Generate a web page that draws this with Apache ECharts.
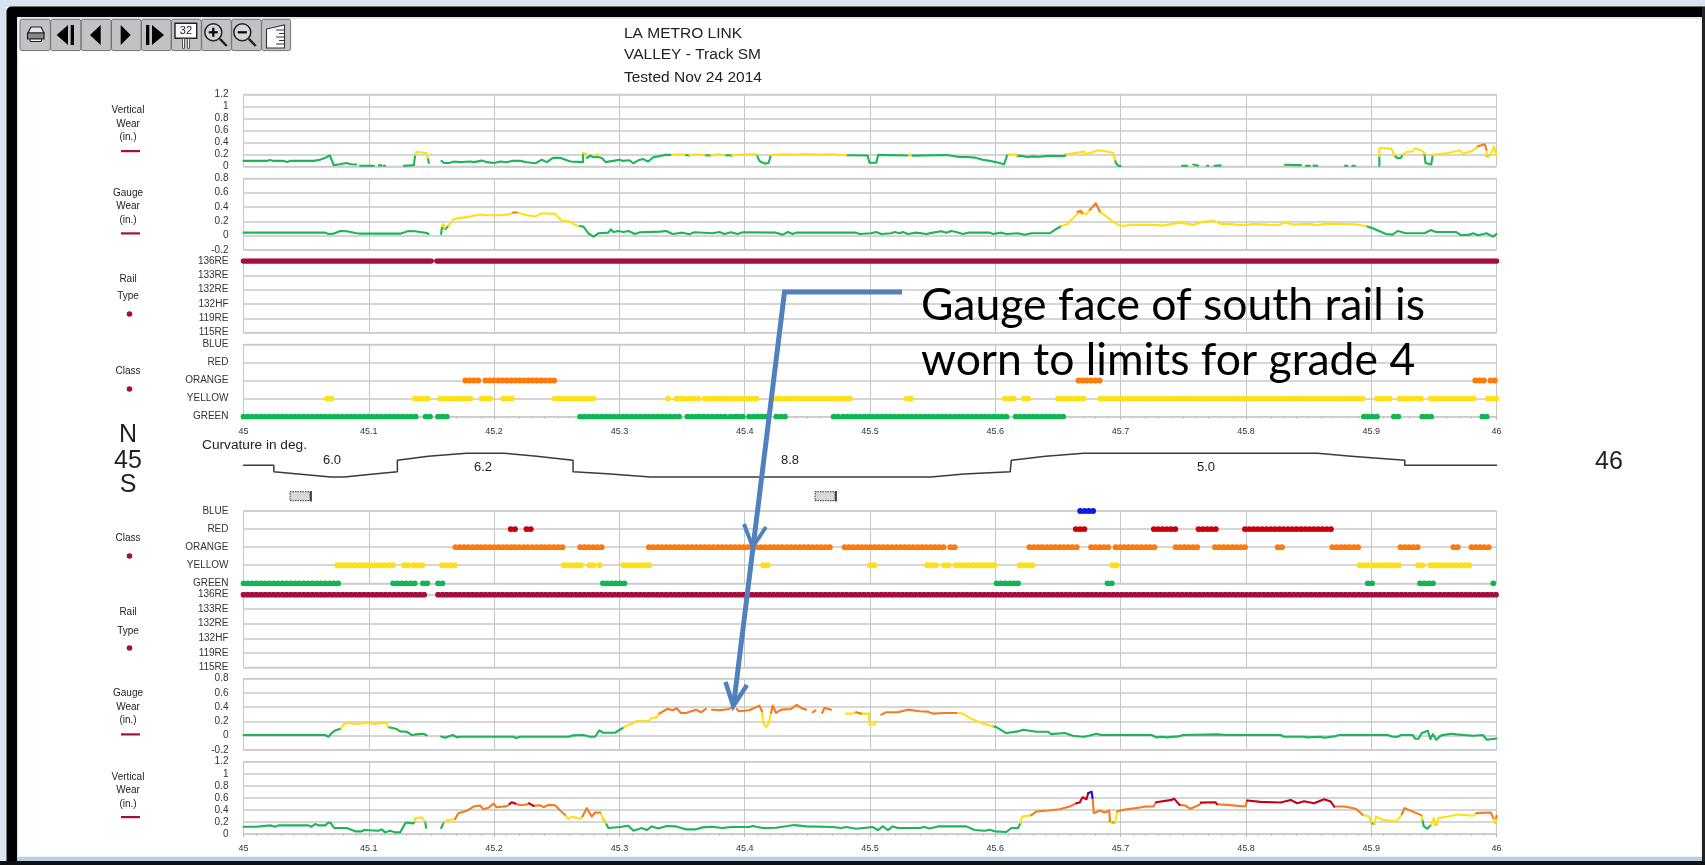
<!DOCTYPE html>
<html><head><meta charset="utf-8"><title>LA Metro Link rail wear</title>
<style>html,body{margin:0;padding:0;background:#fff}#c{width:1705px;height:865px;filter:blur(0.45px)}</style>
<script src="https://cdn.jsdelivr.net/npm/echarts@6/dist/echarts.min.js"></script>
</head><body><div id="c"></div>
<script>
const classLabels = ['GREEN','YELLOW','ORANGE','RED','BLUE'];
const railLabels = ['115RE','119RE','132HF','132RE','133RE','136RE'];
const xMin = 45, xMax = 46, xStep = 0.1;

// North rail, vertical wear (mile, inches)
const northVerticalGreen = [[45,.09],[45.019,.09],[45.021,.105],[45.024,.09],[45.032,.09],[45.035,.07],[45.037,.09],[45.056,.09],[45.061,.11],[45.065,.14],[45.069,.18],[45.072,.02],[45.077,.035],[45.082,.055],[45.086,.035],[45.09,.03],null,[45.093,.01],[45.104,.01],null,[45.108,.015],[45.11,.015],null,[45.112,.01],[45.113,.01],null,[45.128,.01],[45.136,.02],[45.137,.19],null,[45.147,.14],[45.148,.055],null,
[45.158,.09],[45.16,.055],[45.164,.055],[45.168,.08],[45.173,.07],[45.181,.08],[45.184,.07],[45.19,.095],[45.194,.07],[45.2,.055],[45.205,.08],[45.21,.067],[45.214,.09],[45.221,.09],[45.226,.067],[45.233,.05],[45.238,.11],[45.242,.07],[45.247,.14],[45.253,.14],[45.257,.11],[45.261,.08],[45.271,.07],[45.271,.22],null,
[45.274,.14],[45.277,.18],[45.279,.15],[45.282,.16],[45.286,.14],[45.289,.07],[45.295,.09],[45.3,.11],[45.303,.09],[45.308,.1],[45.311,.05],[45.315,.1],[45.319,.12],[45.323,.08],[45.327,.15],[45.331,.165],[45.336,.19],[45.342,.19],null,[45.352,.19],[45.356,.18],null,[45.368,.185],[45.373,.18],null,[45.384,.185],[45.39,.18],null,
[45.41,.17],[45.412,.085],[45.416,.045],[45.419,.055],[45.421,.19],null,[45.481,.185],[45.498,.18],[45.4996,.06],[45.505,.06],[45.5065,.19],[45.53,.18],null,[45.534,.178],[45.561,.189],[45.5715,.155],[45.578,.155],[45.5835,.145],[45.59,.11],[45.5955,.09],[45.601,.067],[45.607,.033],[45.6085,.028],[45.6096,.19],null,[45.617,.178],[45.622,.17],[45.625,.155],[45.63,.165],[45.635,.16],[45.64,.17],[45.645,.175],[45.655,.17],[45.6567,.2],null,
[45.6955,.11],[45.6963,.055],[45.698,.011],[45.70,.003],null,[45.749,.008],[45.753,.008],null,[45.758,.03],[45.762,.01],null,[45.769,.008],[45.77,.008],null,[45.775,.01],[45.78,.015],null,[45.831,.025],[45.844,.02],null,[45.848,.01],[45.851,.01],null,[45.854,.012],[45.857,.008],null,[45.879,.008],[45.881,.008],null,[45.885,.008],[45.887,.008],null,
[45.9065,.01],[45.9065,.17],null,[45.9185,.178],[45.9212,.133],[45.9238,.144],[45.9252,.194],null,[45.9425,.21],[45.9433,.055],[45.9438,.03],[45.9479,.03],[45.9492,.19],null,[45.992,.167],[45.9938,.167]];
const northVerticalYellow = [[45.137,.19],[45.138,.24],[45.142,.23],[45.146,.22],[45.147,.14],null,[45.271,.22],[45.272,.25],[45.274,.21],null,[45.281,.19],[45.283,.2],null,[45.342,.19],[45.348,.2],[45.352,.19],null,[45.356,.18],[45.361,.2],[45.368,.185],null,[45.373,.18],[45.379,.2],[45.384,.185],null,[45.39,.18],[45.4,.2],[45.41,.2],null,[45.421,.19],[45.43,.2],[45.44,.195],[45.45,.205],[45.46,.195],[45.47,.2],[45.481,.185],null,[45.532,.17],[45.532,.21],null,[45.61,.2],[45.6155,.2],[45.617,.178],null,[45.6567,.2],[45.671,.244],[45.6714,.2],[45.6754,.222],[45.682,.267],[45.6874,.256],[45.694,.222],[45.6955,.11],null,[45.9065,.17],[45.9065,.306],[45.9158,.294],[45.9172,.25],[45.9185,.178],null,[45.9252,.194],[45.9278,.233],[45.9332,.25],[45.935,.3],[45.9412,.25],[45.9425,.21],null,[45.9492,.19],[45.9505,.222],[45.9612,.222],[45.9706,.267],[45.9732,.21],[45.9799,.25],[45.9853,.333],null,[45.992,.278],[45.992,.167],null,[45.9938,.167],[45.996,.222],[45.998,.333],[46,.178]];
const northVerticalOrange = [[45.9853,.333],[45.9866,.356],[45.9906,.367],[45.992,.278]];

// North rail, gauge wear
const northGaugeGreen = [[45,.042],[45.0652,.042],[45.0678,.023],[45.0718,.028],[45.0771,.065],[45.0824,.061],[45.0904,.033],[45.0931,.028],[45.125,.028],[45.1316,.065],[45.137,.061],[45.1463,.037],[45.1476,.023],null,[45.1577,.023],[45.1585,.13],[45.1609,.09],[45.1636,.135],null,
[45.2673,.135],[45.2713,.126],[45.2753,.033],[45.2793,-.014],[45.2832,.033],[45.2912,.042],[45.2931,.089],[45.2952,.051],[45.2992,.065],[45.3032,.051],[45.3072,.065],[45.3125,.023],[45.3165,.047],[45.3324,.056],[45.3372,.065],[45.3425,.023],[45.3505,.042],[45.3558,.019],[45.3598,.047],[45.3744,.033],[45.3798,.051],[45.3838,.023],[45.3891,.047],[45.3944,.023],[45.3984,.047],[45.425,.042],[45.4304,.014],[45.4344,.051],[45.4383,.023],[45.441,.042],[45.4889,.042],[45.4916,.023],[45.5009,.033],[45.5049,.051],[45.5089,.023],[45.5169,.033],[45.5196,.051],[45.5236,.033],[45.5262,.051],[45.5302,.023],[45.5369,.042],[45.5449,.023],[45.5502,.042],[45.5569,.061],[45.5609,.042],[45.5649,.065],[45.5688,.051],[45.5742,.023],[45.5782,.042],[45.5955,.042],[45.5981,.023],[45.6048,.042],[45.6088,.023],[45.6181,.033],[45.6234,.014],[45.6288,.033],[45.6434,.033],[45.6487,.093],[45.6527,.135],null,
[45.8958,.135],[45.9011,.103],[45.9118,.023],[45.9171,.014],[45.9212,.065],[45.9278,.033],[45.9425,.033],[45.9479,.079],[45.9505,.056],[45.9532,.051],[45.9679,.051],[45.9719,.005],[45.9786,.014],[45.9813,.033],[45.9853,.005],[45.992,.033],[45.9973,-.014],[46,.023]];
const northGaugeYellow = [[45.1585,.13],[45.1595,.16],[45.1605,.1],null,[45.1636,.135],[45.1676,.229],[45.1729,.248],[45.1809,.266],[45.1888,.294],[45.1941,.285],[45.2048,.285],[45.2128,.3],[45.2149,.322],null,[45.2181,.322],[45.2261,.285],[45.2327,.266],[45.238,.313],[45.2487,.304],[45.254,.206],[45.2606,.196],[45.2646,.15],[45.2673,.135],null,[45.6527,.135],[45.6581,.164],[45.662,.243],[45.666,.313],null,[45.6674,.313],[45.6728,.304],[45.6754,.36],null,[45.6834,.336],[45.6888,.266],[45.6941,.196],[45.6981,.15],[45.7021,.135],[45.7061,.15],[45.7288,.15],[45.7329,.14],[45.7475,.182],[45.7582,.15],[45.7649,.192],[45.7743,.206],[45.7796,.164],[45.7876,.164],[45.7929,.15],[45.801,.15],[45.8063,.164],[45.825,.145],[45.8317,.182],[45.8384,.154],[45.8504,.164],[45.857,.145],[45.8637,.168],[45.8864,.159],[45.8958,.135]];
const northGaugeOrange = [[45.2149,.322],[45.2181,.322],null,[45.6655,.33],[45.668,.346],[45.6695,.32],null,[45.6754,.36],[45.6802,.453],[45.6834,.336]];

// South rail, gauge wear
const southGaugeGreen = [[45,.01],[45.0652,.01],[45.0678,-.014],[45.0705,.038],[45.0731,.075],[45.0779,.103],null,[45.1152,.122],[45.1223,.094],[45.125,.061],[45.1303,.056],[45.1343,.01],[45.1396,.023],[45.1436,.028],[45.1463,.005],null,[45.1577,-.01],[45.1609,-.028],[45.167,.01],[45.1702,-.023],[45.1729,-.014],[45.2154,-.014],[45.2176,-.033],[45.2207,-.014],[45.254,-.014],[45.2553,.005],[45.2593,-.014],[45.2633,.005],[45.2713,.01],[45.2766,-.014],[45.2806,-.014],[45.284,.075],[45.2872,.042],[45.2965,.042],[45.3037,.122],null,
[45.5981,.131],[45.6008,.122],[45.6088,.038],[45.6181,.061],[45.6221,.085],[45.6328,.056],[45.6421,.056],[45.6447,.023],[45.6554,.038],[45.662,0],[45.6674,-.01],[45.6714,-.014],[45.6808,.028],[45.6848,.01],[45.7248,.01],[45.7283,-.023],[45.7329,-.014],[45.7369,-.023],[45.7462,-.009],[45.7502,.01],[45.7769,.019],[45.7849,.01],[45.8277,.01],[45.8303,-.014],[45.8464,-.014],[45.849,-.023],[45.8597,-.014],[45.8624,-.028],[45.8717,-.005],[45.8744,.01],[45.9131,.01],[45.9171,-.014],[45.9212,-.014],[45.9238,.01],[45.9332,.01],[45.935,-.042],[45.9377,-.042],[45.9404,.038],[45.9452,.07],[45.9473,-.047],[45.9492,.023],[45.9519,-.056],[45.9559,.005],[45.9639,.028],[45.9679,.019],[45.9813,0],[45.9893,.01],[45.992,-.056],[46,-.038]];
const southGaugeYellow = [[45.0779,.103],[45.0798,.16],[45.0838,.183],[45.0891,.16],[45.0971,.178],[45.1011,.183],[45.1051,.16],[45.109,.178],[45.1144,.178],[45.1152,.122],null,[45.3037,.122],[45.3112,.178],[45.3138,.207],[45.3231,.207],[45.3258,.249],[45.3298,.258],[45.3318,.31],null,[45.4138,.343],[45.4149,.178],[45.417,.122],[45.4192,.178],[45.421,.319],null,[45.481,.31],[45.4863,.31],[45.4889,.329],null,[45.4929,.31],[45.4991,.31],[45.4996,.155],[45.5036,.16],[45.5049,.202],null,[45.5688,.319],[45.5742,.31],[45.5795,.249],[45.5875,.188],[45.5981,.131]];
const southGaugeOrange = [[45.3318,.31],[45.3345,.338],[45.3385,.38],[45.3425,.357],[45.3457,.385],[45.3491,.319],[45.3531,.319],[45.3611,.366],[45.3651,.329],[45.3691,.376],null,[45.3739,.366],[45.3798,.357],[45.3877,.376],[45.3904,.404],null,[45.3936,.376],[45.3952,.343],[45.4037,.357],[45.4117,.423],[45.4138,.343],null,[45.421,.319],[45.4224,.423],[45.425,.319],[45.429,.366],[45.437,.376],[45.4415,.432],[45.445,.39],[45.449,.366],null,[45.4543,.329],[45.4565,.357],null,[45.4618,.319],[45.4636,.39],[45.469,.366],null,[45.4889,.329],[45.4929,.31],null,[45.5089,.296],[45.5129,.329],[45.5222,.329],[45.5302,.366],[45.5395,.343],[45.5462,.338],[45.5502,.31],[45.5595,.319],[45.5688,.319]];

// South rail, vertical wear
const southVerticalGreen = [[45,.12],[45.0106,.12],[45.012,.143],[45.0213,.143],[45.0253,.12],[45.0279,.143],[45.0519,.143],[45.054,.12],[45.0572,.165],[45.0598,.143],[45.0652,.143],[45.0678,.192],[45.0697,.181],[45.0723,.099],[45.0824,.099],[45.0891,.044],[45.0944,.044],[45.0963,.066],[45.1077,.055],[45.1104,.077],[45.113,.027],[45.117,.055],[45.121,.027],[45.125,.027],[45.1295,.192],[45.1356,.176],[45.137,.209],null,[45.1449,.209],[45.1457,.181],[45.1457,.104],null,[45.1577,.099],[45.1601,.198],null,
[45.2872,.247],[45.2891,.181],[45.2912,.099],[45.3005,.115],[45.3072,.137],[45.3112,.055],[45.3178,.099],[45.3218,.066],[45.3258,.126],[45.3311,.093],[45.3364,.126],[45.3385,.132],[45.3451,.126],[45.3531,.077],[45.3611,.077],[45.3664,.11],[45.3731,.121],[45.3824,.099],[45.3891,.115],[45.4037,.115],[45.4064,.132],[45.4144,.099],[45.425,.104],[45.4397,.148],[45.449,.126],[45.4703,.115],[45.477,.099],[45.481,.115],[45.4889,.088],[45.5023,.115],[45.5063,.066],[45.5103,.126],[45.5142,.066],[45.5182,.126],[45.5222,.099],[45.5395,.099],[45.5435,.115],[45.5475,.093],[45.5542,.126],[45.5768,.126],[45.5835,.066],[45.5915,.055],[45.5955,.071],[45.5995,.044],[45.6088,.033],[45.6128,.099],[45.6181,.099],[45.6202,.181],null,
[45.6928,.19],[45.6955,.19],null,[45.8998,.181],[45.9025,.17],null,[45.9409,.236],[45.942,.126],[45.9447,.088],[45.9479,.154],null,[45.9511,.154],[45.9524,.165],null,[45.999,.19],[45.9995,.2]];
const southVerticalYellow = [[45.137,.209],[45.137,.264],[45.1423,.275],[45.1449,.209],null,[45.1601,.198],[45.1622,.225],[45.1689,.247],null,[45.2566,.319],[45.2593,.247],[45.262,.291],[45.2686,.247],[45.2705,.291],null,[45.2846,.357],[45.2872,.247],[45.2891,.181],null,[45.6202,.181],[45.6213,.291],[45.6288,.313],null,[45.6915,.209],[45.6928,.19],null,[45.6955,.19],[45.6973,.374],null,[45.8931,.319],[45.8985,.29],[45.8998,.181],null,[45.9025,.17],[45.9038,.291],[45.9091,.236],[45.9198,.209],[45.9225,.264],[45.9245,.33],null,[45.9399,.313],[45.9409,.236],null,[45.9479,.154],[45.95,.264],[45.9511,.154],null,[45.9524,.165],[45.9537,.264],[45.9612,.291],[45.9692,.324],[45.9813,.302],[45.9839,.346],null,[45.9975,.264],[45.999,.19],null,[45.9995,.2],[46,.3]];
const southVerticalOrange = [[45.1689,.247],[45.1715,.346],[45.1782,.385],[45.1835,.456],[45.1888,.473],[45.1915,.412],[45.1955,.434],[45.1995,.505],[45.2021,.445],[45.2101,.462],[45.2125,.5],null,[45.2168,.505],[45.2207,.478],[45.2261,.489],[45.228,.51],null,[45.2314,.467],[45.2367,.478],[45.2394,.445],[45.2434,.484],[45.2487,.478],[45.2527,.39],[45.2566,.319],null,[45.2705,.291],[45.2739,.429],[45.2779,.291],[45.2806,.357],[45.2846,.357],null,[45.6288,.313],[45.6328,.374],[45.6421,.39],[45.6514,.412],[45.6594,.456],[45.6647,.511],null,[45.6776,.6],[45.6786,.346],[45.6834,.39],[45.6874,.357],[45.6909,.39],[45.6915,.209],null,[45.6973,.374],[45.7021,.401],[45.7168,.445],[45.7195,.456],[45.7262,.456],[45.7283,.527],null,[45.747,.484],[45.7515,.473],[45.7556,.418],[45.763,.484],[45.7641,.52],null,[45.7769,.495],[45.7849,.484],[45.7996,.456],[45.801,.555],null,[45.8704,.456],[45.8784,.456],[45.8878,.418],[45.8931,.319],null,[45.9245,.33],[45.9265,.429],[45.9399,.313],null,[45.9839,.346],[45.9954,.357],[45.9975,.264],null,[45.9997,.26],[46,.3]];
const southVerticalRed = [[45.2125,.5],[45.2141,.527],[45.2168,.505],null,[45.228,.51],[45.2293,.533],[45.2314,.467],null,[45.6647,.511],[45.6674,.522],[45.6696,.61],[45.6728,.577],[45.6741,.676],null,[45.7283,.527],[45.7409,.566],[45.7427,.588],[45.747,.484],null,[45.7641,.52],[45.7756,.527],[45.7769,.495],null,[45.801,.555],[45.8116,.533],[45.8277,.522],[45.8357,.566],[45.841,.511],[45.8464,.544],[45.8544,.511],[45.8624,.577],[45.8677,.538],[45.8704,.456]];
const southVerticalBlue = [[45.6741,.676],[45.6768,.703],[45.6776,.6]];

// Curvature trace, deflection from tangent
const curvatureTrace = [[45,0],[45.0242,0],[45.0242,-.56],[45.048,-.78],[45.0696,-1],[45.0805,-1],[45.0999,-.78],[45.1228,-.56],[45.1228,.42],[45.1475,.75],[45.1778,1],[45.208,1],[45.234,.75],[45.263,.42],[45.263,-.56],[45.2902,-.72],[45.3248,-1],[45.5488,-1],[45.5749,-.75],[45.6119,-.56],[45.6128,.42],[45.6402,.75],[45.6707,1],[45.8571,1],[45.8841,.75],[45.9268,.42],[45.9268,0],[46,0]];

// Class runs, [start mile, end mile]
const northClassOrange = [[45.177,45.19],[45.193,45.25],[45.6664,45.6707],[45.6729,45.686],[45.983,45.9908],[45.9952,45.9987]];
const northClassYellow = [[45.0666,45.0705],[45.1367,45.1475],[45.157,45.182],[45.19,45.1994],[45.2072,45.2145],[45.2483,45.2816],[45.3387,45.3421],[45.3456,45.3659],[45.3681,45.4105],[45.4222,45.484],[45.5292,45.534],[45.6076,45.6163],[45.6228,45.6272],[45.6498,45.6738],[45.6838,45.8963],[45.9046,45.9177],[45.9225,45.9429],[45.9473,45.9843],[45.993,46]];
const northClassGreen = [[45,45.138],[45.1453,45.1497],[45.1553,45.1631],[45.2686,45.3508],[45.3542,45.3629],[45.3638,45.3875],[45.3888,45.3932],[45.3949,45.3992],[45.4035,45.42],[45.4252,45.433],[45.471,45.4753],[45.4784,45.6098],[45.6163,45.6555],[45.8942,45.9059],[45.9181,45.9233],[45.9408,45.9486],[45.9887,45.9939]];
const northRailRuns = [[45,45.1497],[45.1544,46]];

const southClassBlue = [[45.6677,45.6782]];
const southClassRed = [[45.2132,45.2193],[45.2258,45.2318],[45.6642,45.6742],[45.7265,45.7456],[45.7622,45.7766],[45.7992,45.8698]];
const southClassOrange = [[45.1691,45.2145],[45.2167,45.2275],[45.2305,45.2578],[45.2686,45.2859],[45.3235,45.4048],[45.4061,45.471],[45.4797,45.561],[45.564,45.5692],[45.6272,45.6655],[45.6764,45.6916],[45.696,45.7273],[45.7439,45.7644],[45.7753,45.8005],[45.8253,45.8297],[45.8689,45.8928],[45.9233,45.9386],[45.9656,45.9695],[45.98,45.9939]];
const southClassYellow = [[45.0748,45.1215],[45.128,45.1319],[45.1358,45.1453],[45.1583,45.1713],[45.2556,45.2695],[45.276,45.2807],[45.2842,45.2872],[45.3032,45.324],[45.4148,45.4191],[45.5,45.5039],[45.5457,45.5531],[45.5592,45.5645],[45.5684,45.6019],[45.6193,45.6324],[45.6934,45.6973],[45.8907,45.8985],[45.9016,45.9255],[45.9373,45.9412],[45.9473,45.9808]];
const southClassGreen = [[45,45.0761],[45.1194,45.138],[45.1432,45.1475],[45.1553,45.1605],[45.2868,45.3041],[45.601,45.6206],[45.6895,45.6952],[45.8972,45.9016],[45.939,45.9521],[45.9974,46]];
const southRailRuns = [[45,45.1475],[45.1553,46]];

const C = {green:'#1db45a',yellow:'#ffe015',orange:'#f47b20',red:'#c3001a',blue:'#1010e0',maroon:'#a50e3e',dotGreen:'#10b652',dotOrange:'#ff7a0c',dotRed:'#c80008',dotBlue:'#0a1de8'};
const GRID = '#c9c9c9', LEFT = 243.5, W = 1253;
const FONT = '"Liberation Sans", Arial, sans-serif';

const panels = [
  {top:94.3,h:72,kind:'num',min:0,max:1.2},
  {top:178.3,h:71.7,kind:'num',min:-0.2,max:0.8},
  {top:261,h:71.7,kind:'cat',data:railLabels},
  {top:344.3,h:72.4,kind:'cat',data:classLabels,xl:true},
  {top:453.3,h:23.7,kind:'hide',min:-1,max:1},
  {top:511,h:72.3,kind:'cat',data:classLabels},
  {top:594.7,h:72.6,kind:'cat',data:railLabels},
  {top:678.7,h:71.3,kind:'num',min:-0.2,max:0.8},
  {top:761.7,h:72.3,kind:'num',min:0,max:1.2,xl:true}
];
const grids = panels.map(p=>({z:2,left:LEFT,width:W,top:p.top,height:p.h,show:p.kind!=='hide',borderColor:GRID,borderWidth:1,backgroundColor:'transparent'}));
const xAxes = panels.map((p,i)=>({z:2,type:'value',gridIndex:i,min:xMin,max:xMax,interval:xStep,show:p.kind!=='hide',
  axisLine:{show:false},axisTick:{show:!!p.xl,length:3,lineStyle:{color:'#b5b5b5'}},
  minorTick:{show:!!p.xl,splitNumber:10,length:2,lineStyle:{color:'#c4c4c4'}},
  splitLine:{show:true,lineStyle:{color:'#c6c6c6',width:1}},
  axisLabel:{show:!!p.xl,margin:10,fontFamily:FONT,fontSize:9,color:'#333',hideOverlap:false,formatter:v=>String(Math.round(v*10)/10)}}));
const yAxes = panels.map((p,i)=>{
  const common={z:2,gridIndex:i,axisLine:{show:false},axisTick:{show:false},
    splitLine:{show:true,lineStyle:{color:GRID,width:1.6}},
    axisLabel:{margin:15,fontFamily:FONT,fontSize:10,color:'#333'}};
  if(p.kind==='cat') return {...common,type:'category',data:p.data,boundaryGap:false,axisLabel:{...common.axisLabel,interval:0}};
  if(p.kind==='hide') return {type:'value',gridIndex:i,min:p.min,max:p.max,show:false};
  return {...common,type:'value',min:p.min,max:p.max,interval:0.2};
});

const gapRow=['-','-'];
function lineS(g,arr,color,width){
  return {type:'line',xAxisIndex:g,yAxisIndex:g,data:arr.map(d=>d===null?gapRow:d),showSymbol:false,symbol:'none',connectNulls:false,clip:false,silent:true,z:3,animation:false,
    lineStyle:{color:color,width:width||2.1,join:'round',cap:'round'}};
}
function runS(g,runs,label,color,dotted){
  const rows=[];
  runs.forEach(r=>{rows.push([r[0],label],[r[1],label],gapRow);});
  return {type:'line',xAxisIndex:g,yAxisIndex:g,data:rows,showSymbol:false,symbol:'none',connectNulls:false,clip:false,silent:true,z:4,animation:false,
    lineStyle:{color:color,width:dotted?5.8:5.6,cap:'round',type:dotted?[0.1,4.2]:'solid'}};
}
const series=[
  lineS(0,northVerticalGreen,C.green),lineS(0,northVerticalYellow,C.yellow),lineS(0,northVerticalOrange,C.orange),
  lineS(1,northGaugeGreen,C.green),lineS(1,northGaugeYellow,C.yellow),lineS(1,northGaugeOrange,C.orange),
  runS(2,northRailRuns,'136RE',C.maroon,false),
  runS(3,northClassGreen,'GREEN',C.dotGreen,true),runS(3,northClassYellow,'YELLOW',C.yellow,true),runS(3,northClassOrange,'ORANGE',C.dotOrange,true),
  lineS(4,curvatureTrace,'#3a3a3a',1.5),
  runS(5,southClassGreen,'GREEN',C.dotGreen,true),runS(5,southClassYellow,'YELLOW',C.yellow,true),runS(5,southClassOrange,'ORANGE',C.dotOrange,true),runS(5,southClassRed,'RED',C.dotRed,true),runS(5,southClassBlue,'BLUE',C.dotBlue,true),
  runS(6,southRailRuns,'136RE',C.maroon,true),
  lineS(7,southGaugeGreen,C.green),lineS(7,southGaugeYellow,C.yellow),lineS(7,southGaugeOrange,C.orange),
  lineS(8,southVerticalGreen,C.green),lineS(8,southVerticalYellow,C.yellow),lineS(8,southVerticalOrange,C.orange),lineS(8,southVerticalRed,C.red),lineS(8,southVerticalBlue,C.blue)
];

// ---- decoration ----
const g=[];
const rect=(x,y,w,h,fill,extra)=>g.push({type:'rect',z:extra&&extra.z||1,shape:{x,y,width:w,height:h,r:extra&&extra.r||0},style:{fill,stroke:extra&&extra.stroke||null,lineWidth:extra&&extra.lw||0,lineDash:extra&&extra.dash}});
const text=(x,y,t,size,opt)=>g.push({type:'text',z:opt&&opt.z||20,x,y,style:{text:t,fontSize:size,fontFamily:opt&&opt.family||FONT,fill:opt&&opt.fill||'#222',align:opt&&opt.align||'center',verticalAlign:'middle',textAlign:opt&&opt.align||'center',textVerticalAlign:'middle'}});
const poly=(pts,fill,z)=>g.push({type:'polygon',z:z||12,shape:{points:pts},style:{fill}});
const pline=(pts,color,w,z,cap)=>g.push({type:'polyline',z:z||12,shape:{points:pts},style:{stroke:color,lineWidth:w,fill:null,lineCap:cap||'butt',lineJoin:'miter'}});
const dot=(x,y)=>g.push({type:'circle',z:12,shape:{cx:x,cy:y,r:2.8},style:{fill:C.maroon}});

// window frame
rect(0,0,1705,7,'#d6e4f1');
rect(0,0,6.5,865,'#d6e4f1');
g.push({type:'rect',z:1,shape:{x:6.5,y:6.5,width:1698.5,height:858.5,r:[5,0,0,0]},style:{fill:'#000'}});
rect(17,17,1685,844,'#dbe8f4');
rect(18.5,19,1683,837.5,'#fff');
rect(17,857,1685,4,'#b9cfe3');
rect(1702,7,3,858,'#222');
rect(0,861,1705,4,'#111');

// toolbar
const bx=[20,50.7,81.3,111.5,141.5,171.5,201.7,231.7,261.7];
bx.forEach((x,i)=>rect(x,19.3,(i<8?bx[i+1]-x:29.3)-0.4,31.3,'#c2c2c2',{stroke:'#6f7478',lw:1,r:2,z:10}));
// printer
poly([[31,27],[41,27],[44,33],[28,33]],'#e8e8e8');pline([[31,27],[41,27],[44,33],[28,33],[31,27]],'#222',1.2);
rect(27.5,33,16.5,6,'#888',{stroke:'#222',lw:1.2,z:12});rect(30,39,11.5,2.5,'#eee',{stroke:'#222',lw:1,z:12});
// step buttons
poly([[68,25],[68,45],[56.7,35]],'#000');rect(70.7,25,3.3,20,'#000',{z:12});
poly([[100.7,25],[100.7,45],[90,35]],'#000');
poly([[120.7,25],[120.7,45],[130.7,35]],'#000');
rect(146,25,3.3,20,'#000',{z:12});poly([[152,25],[152,45],[164,35]],'#000');
// mile post
rect(175,23.3,21.7,15,'#fff',{stroke:'#222',lw:1.4,z:12});rect(182.5,38.3,2,10,'#fff',{stroke:'#333',lw:.8,z:12});rect(187.5,38.3,2,10,'#fff',{stroke:'#333',lw:.8,z:12});
text(185.9,31,'32',11,{z:13});
// zoom
[[213.3,'+'],[242.3,'-']].forEach(([cx,s])=>{
  g.push({type:'circle',z:12,shape:{cx,cy:32.3,r:8.5},style:{fill:'#d6d6d6',stroke:'#222',lineWidth:1.5}});
  pline([[cx+6.5,38.8],[cx+13.5,46]],'#222',2.4,12);
  pline([[cx-4.5,32.3],[cx+4.5,32.3]],'#000',2.2,13);
  if(s==='+')pline([[cx,27.8],[cx,36.8]],'#000',2.2,13);
});
// ruler
poly([[266.5,29],[284.5,25],[284.5,48],[266.5,48]],'#fff');pline([[266.5,29],[284.5,25],[284.5,48],[266.5,48],[266.5,29]],'#333',1.1);
[30,33.5,37,40.5,44].forEach((y,i)=>pline([[i%2?279:276,y],[284,y]],'#333',1,13));

// titles
[['LA METRO LINK',33.3],['VALLEY - Track SM',55],['Tested Nov 24 2014',77.3]].forEach(([t,y])=>text(624,y,t,15.5,{align:'left'}));

// side captions
const side=(lines,ys)=>lines.forEach((t,i)=>text(128,ys[i],t,10));
const dash=y=>rect(121,y-1,19,2.2,C.maroon,{z:12});
side(['Vertical','Wear','(in.)'],[110,124,137]);dash(151);
side(['Gauge','Wear','(in.)'],[193.7,206.7,220.7]);dash(233.3);
side(['Rail','Type'],[279.3,296.7]);dot(129.5,314);
side(['Class'],[371.7]);dot(129.5,389);
side(['Class'],[538.7]);dot(129.5,556);
side(['Rail','Type'],[612.7,631.3]);dot(129.5,648);
side(['Gauge','Wear','(in.)'],[693.7,707.3,720.7]);dash(734.3);
side(['Vertical','Wear','(in.)'],[777.3,790,804.7]);dash(817);
text(128,435,'N',25);text(128,461,'45',25);text(128,485,'S',25);
text(1609,462,'46',25);

// curvature
text(202,445,'Curvature in deg.',13.7,{align:'left'});
text(332,460,'6.0',13);text(483,467.7,'6.2',13);text(790,460,'8.8',13);text(1206,467.7,'5.0',13);
// bridge symbols
[290,815].forEach(x=>{rect(x,491.7,20,9,'#d8d8d8',{stroke:'#333',lw:1,dash:[1.5,1],z:12});pline([[x+21,491],[x+21,501.5]],'#222',1.6,12);});

// annotation
const BL='#4f81bd';
pline([[902,292],[784.5,292],[733.6,705]],BL,5,60);
pline([[744,524],[752.7,547],[766,527]],BL,4,60);
pline([[725.5,682],[733.3,706],[747,685]],BL,4.5,60);
text(921,306,'Gauge face of south rail is',44.5,{align:'left',family:'Lato, "Open Sans", sans-serif',fill:'#000',z:61});
text(921,361,'worn to limits for grade 4',44.5,{align:'left',family:'Lato, "Open Sans", sans-serif',fill:'#000',z:61});

const chart=echarts.init(document.getElementById('c'),null,{renderer:'canvas'});
chart.setOption({animation:false,backgroundColor:'transparent',grid:grids,xAxis:xAxes,yAxis:yAxes,series:series,graphic:{elements:g}});
</script></body></html>
